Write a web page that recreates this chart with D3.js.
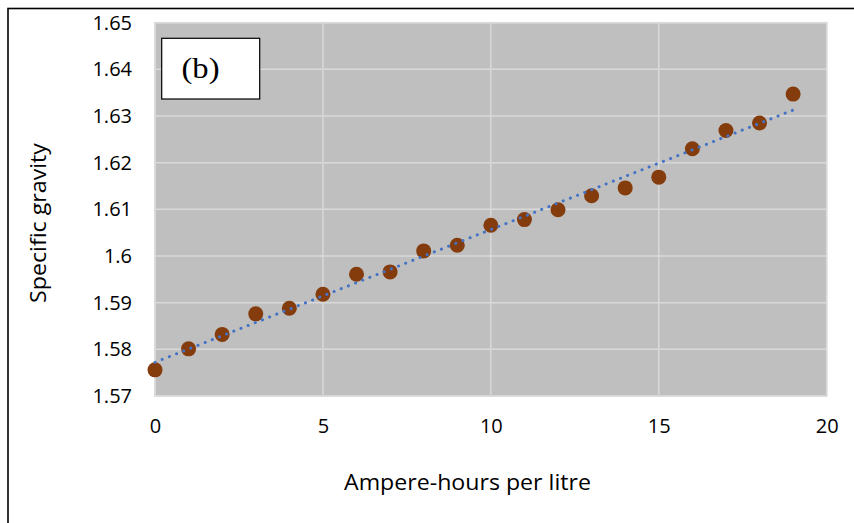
<!DOCTYPE html>
<html>
<head>
<meta charset="utf-8">
<script src="https://cdn.jsdelivr.net/npm/d3@7"></script>
<style>
  body { margin: 0; background: #fff; }
  text { font-family: "Open Sans", sans-serif; fill: #000; }
</style>
</head>
<body>
<svg class="svg-chart" width="854" height="523"></svg>
<script>
// ampere-hours per litre and measured specific gravity
var ampHours = [0, 1, 2, 3, 4, 5, 6, 7, 8, 9, 10, 11, 12, 13, 14, 15, 16, 17, 18, 19];
var gravity = [1.5756, 1.5801, 1.5832, 1.5876, 1.5888, 1.5918, 1.5961, 1.5966, 1.6011, 1.6023,
               1.6066, 1.6078, 1.6099, 1.6129, 1.6146, 1.6169, 1.6230, 1.6269, 1.6285, 1.6347];
var xTicks = [0, 5, 10, 15, 20];
var yTicks = [1.57, 1.58, 1.59, 1.6, 1.61, 1.62, 1.63, 1.64, 1.65];
var panelLabel = "(b)";

var svg = d3.select(".svg-chart");
var margin = { top: 22.7, right: 27.3, bottom: 127, left: 155 };
var width = +svg.attr("width") - margin.left - margin.right;
var height = +svg.attr("height") - margin.top - margin.bottom;

var x = d3.scaleLinear().domain([0, 20]).range([0, width]);
var y = d3.scaleLinear().domain([1.57, 1.65]).range([height, 0]);

// outer frame, runs off the right and bottom of the page
svg.append("rect")
  .attr("x", 8).attr("y", 8.5)
  .attr("width", 900).attr("height", 600)
  .attr("fill", "none")
  .attr("stroke", "#000")
  .attr("stroke-width", 1.6);

var g = svg.append("g")
  .attr("transform", "translate(" + margin.left + "," + margin.top + ")");

g.append("rect")
  .attr("width", width).attr("height", height)
  .attr("fill", "#bfbfbf")
  .attr("stroke", "#d9d9d9")
  .attr("stroke-width", 1.5);

// grid
g.append("g")
  .selectAll("line")
  .data(yTicks)
  .enter().append("line")
  .attr("x1", 0).attr("x2", width)
  .attr("y1", function (d) { return y(d); })
  .attr("y2", function (d) { return y(d); })
  .attr("stroke", "#d9d9d9")
  .attr("stroke-width", 1.5);

g.append("g")
  .selectAll("line")
  .data(xTicks)
  .enter().append("line")
  .attr("y1", 0).attr("y2", height)
  .attr("x1", function (d) { return x(d); })
  .attr("x2", function (d) { return x(d); })
  .attr("stroke", "#d9d9d9")
  .attr("stroke-width", 1.5);

// axes (labels only)
var yAxis = d3.axisLeft(y).tickValues(yTicks).tickSize(0).tickPadding(23)
  .tickFormat(function (d) { return d3.format("")(+d.toFixed(2)); });
var xAxis = d3.axisBottom(x).tickValues(xTicks).tickSize(0).tickPadding(23);

g.append("g")
  .attr("class", "axis axis--y")
  .call(yAxis)
  .call(function (a) { a.select(".domain").remove(); })
  .selectAll("text")
  .style("font-size", "20px")
  .style("font-family", "'Open Sans', sans-serif");

g.append("g")
  .attr("class", "axis axis--x")
  .attr("transform", "translate(0," + height + ")")
  .call(xAxis)
  .call(function (a) { a.select(".domain").remove(); })
  .selectAll("text")
  .style("font-size", "20px")
  .style("font-family", "'Open Sans', sans-serif");

// linear trendline (least squares)
var pts = ampHours.map(function (a, i) { return { a: a, g: gravity[i] }; });
var mx = d3.mean(pts, function (d) { return d.a; });
var my = d3.mean(pts, function (d) { return d.g; });
var slope = d3.sum(pts, function (d) { return (d.a - mx) * (d.g - my); }) /
            d3.sum(pts, function (d) { return (d.a - mx) * (d.a - mx); });
var icpt = my - slope * mx;
var ext = d3.extent(ampHours);
var trend = ext.map(function (a) { return { a: a, g: icpt + slope * a }; });
var line = d3.line().x(function (d) { return x(d.a); }).y(function (d) { return y(d.g); });

g.append("g")
  .selectAll("circle")
  .data(pts)
  .enter().append("circle")
  .attr("cx", function (d) { return x(d.a); })
  .attr("cy", function (d) { return y(d.g); })
  .attr("r", 7.5)
  .attr("fill", "#843c0c");

// dotted trendline sits over the markers
g.append("path")
  .datum(trend)
  .attr("d", line)
  .attr("fill", "none")
  .attr("stroke", "#4472c4")
  .attr("stroke-width", 3)
  .attr("stroke-linecap", "round")
  .attr("stroke-dasharray", "0.1 7.6");

// panel label box
svg.append("rect")
  .attr("x", 161.7).attr("y", 38.3)
  .attr("width", 98).attr("height", 60.7)
  .attr("fill", "#fff")
  .attr("stroke", "#000")
  .attr("stroke-width", 1.2);

svg.append("text")
  .attr("x", 181.5).attr("y", 77.5)
  .attr("textLength", 38)
  .attr("lengthAdjust", "spacingAndGlyphs")
  .style("font-family", "'Liberation Serif', serif")
  .style("font-size", "29px")
  .text(panelLabel);

// axis titles
svg.append("text")
  .attr("x", 467.5).attr("y", 490)
  .attr("text-anchor", "middle")
  .attr("textLength", 247)
  .attr("lengthAdjust", "spacingAndGlyphs")
  .style("font-size", "21px")
  .text("Ampere-hours per litre");

svg.append("text")
  .attr("transform", "translate(45.5,223) rotate(-90)")
  .attr("text-anchor", "middle")
  .attr("textLength", 160)
  .attr("lengthAdjust", "spacingAndGlyphs")
  .style("font-size", "21px")
  .text("Specific gravity");
</script>
</body>
</html>
